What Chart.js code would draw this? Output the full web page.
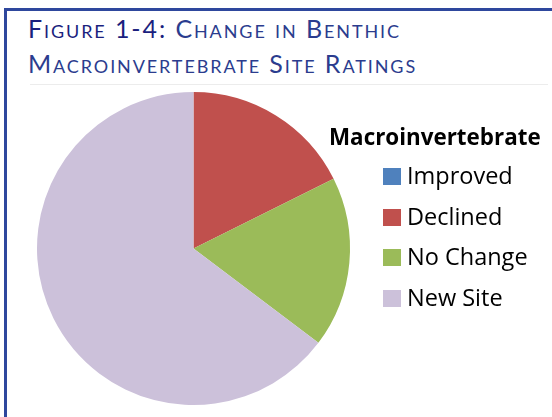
<!DOCTYPE html>
<html>
<head>
<meta charset="utf-8">
<script src="https://cdn.jsdelivr.net/npm/chart.js@4"></script>
<style>
  html, body { margin: 0; padding: 0; background: #fff; }
  body { width: 552px; height: 417px; position: relative; overflow: hidden; }
  .frame { position: absolute; left: 4px; top: 8px; width: 700px; height: 600px; border: 3px solid #2e479d; }
  .title { position: absolute; left: 28px; top: 11px; font-family: Lato, sans-serif; font-size: 25px; line-height: 35px;
           font-variant: small-caps; letter-spacing: 1.9px; color: #2b3c8e; white-space: nowrap; }
  .title b { font-weight: normal; color: #1b1f7e; }
  .rule { position: absolute; left: 30px; top: 84px; width: 518px; height: 1px; background: #ececec; }
  #chartWrap { position: absolute; left: 0; top: 0; width: 552px; height: 417px; }
  .legend { position: absolute; left: 329px; top: 122px; font-family: "Open Sans", sans-serif; color: #000; }
  .legend .lt { font-weight: bold; font-size: 22.4px; line-height: 30px; white-space: nowrap; }
  .legend .it { position: absolute; left: 54px; height: 30px; white-space: nowrap; font-size: 23.5px; line-height: 30px; }
  .legend .it span { position: absolute; left: 0; top: 6px; width: 18px; height: 17px; }
  .legend .it em { font-style: normal; position: absolute; left: 24px; top: -2px; }
</style>
</head>
<body>
<div class="frame"></div>
<div class="title"><b>Figure 1-4:</b> Change in Benthic<br>Macroinvertebrate Site Ratings</div>
<div class="rule"></div>
<div id="chartWrap"><canvas id="pieChart" width="552" height="417"></canvas></div>
<div class="legend" id="legend"></div>
<script>
// Categorias e contagens de locais
const categorias = ['Improved', 'Declined', 'No Change', 'New Site'];
const contagens = [0, 3, 3, 11];
const cores = ['#4f81bd', '#c0504d', '#9bbb59', '#ccc1da'];
const tituloLegenda = 'Macroinvertebrate';

const ctx = document.getElementById('pieChart').getContext('2d');
new Chart(ctx, {
    type: 'pie',
    data: {
        labels: categorias,
        datasets: [{
            data: contagens,
            backgroundColor: cores,
            borderWidth: 0
        }]
    },
    options: {
        responsive: false,
        animation: false,
        layout: { padding: { left: 37, top: 92, bottom: 12, right: 202 } },
        plugins: {
            legend: { display: false },
            tooltip: { enabled: false }
        }
    }
});

// Legenda em HTML
const legenda = document.getElementById('legend');
let html = '<div class="lt">' + tituloLegenda + '</div>';
categorias.forEach(function (nome, i) {
    html += '<div class="it" style="top:' + (40 + i * 40.6) + 'px"><span style="background:' + cores[i] + '"></span><em>' + nome + '</em></div>';
});
legenda.innerHTML = html;
</script>
</body>
</html>
